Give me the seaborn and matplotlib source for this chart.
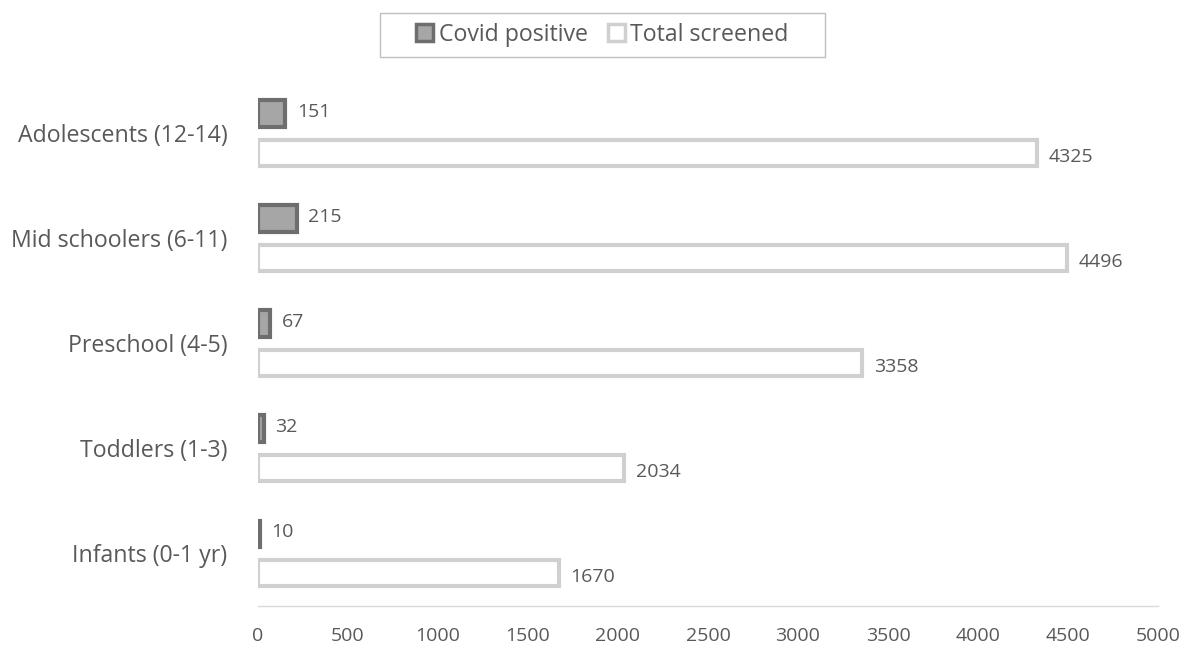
import pandas as pd
import matplotlib.pyplot as plt
import seaborn as sns
from matplotlib.patches import Patch, Rectangle

# chart data
groups = ['Adolescents (12-14)', 'Mid schoolers (6-11)', 'Preschool (4-5)',
          'Toddlers (1-3)', 'Infants (0-1 yr)']
covid_positive = [151, 215, 67, 32, 10]
total_screened = [4325, 4496, 3358, 2034, 1670]
series = ['Covid positive', 'Total screened']
x_ticks = list(range(0, 5001, 500))

df = pd.DataFrame({
    'group': groups * 2,
    'value': covid_positive + total_screened,
    'series': [series[0]] * len(groups) + [series[1]] * len(groups),
})

sns.set_style('white')
plt.rcParams['font.family'] = ['Open Sans', 'DejaVu Sans']
text_col = '#595959'

fig = plt.figure(figsize=(11.91, 6.54), dpi=100)
ax = fig.add_axes([0.2166, 0.0734, 0.7557, 0.8035])

sns.barplot(data=df, y='group', x='value', hue='series', order=groups,
            hue_order=series, orient='h', width=0.75, gap=0.33,
            palette=['#a6a6a6', '#ffffff'], ax=ax, legend=False)

# style the bars per series
n = len(groups)
for i, p in enumerate(ax.patches[:2 * n]):
    if i < n:
        p.set_edgecolor('#6e6e6e')
    else:
        p.set_edgecolor('#d0d0d0')
    p.set_linewidth(3)

# value labels
values = covid_positive + total_screened
for i, p in enumerate(ax.patches[:2 * n]):
    yc = p.get_y() + p.get_height() / 2
    ax.annotate(str(values[i]), (p.get_width(), yc),
                xytext=(8.5, 1 if i < n else -3),
                textcoords='offset points', va='center', ha='left',
                fontsize=14, color=text_col)

ax.set_xlim(0, 5000)
ax.set_ylim(len(groups) - 0.5, -0.5)
ax.set_xticks(x_ticks)
ax.set_xticklabels([str(t) for t in x_ticks])
ax.set_xlabel('')
ax.set_ylabel('')
ax.tick_params(axis='x', length=0, pad=15, labelsize=14, labelcolor=text_col)
ax.tick_params(axis='y', length=0, pad=22, labelsize=16.7, labelcolor=text_col)
for side in ['top', 'right', 'left']:
    ax.spines[side].set_visible(False)
ax.spines['bottom'].set_color('#d9d9d9')
ax.spines['bottom'].set_linewidth(1)

# legend (Excel-style wide frame drawn separately)
handles = [Patch(facecolor='#a6a6a6', edgecolor='#6e6e6e', linewidth=2.5),
           Patch(facecolor='#ffffff', edgecolor='#d0d0d0', linewidth=2.5)]
leg = fig.legend(handles, series, loc='center', bbox_to_anchor=(0.506, 0.947),
                 ncol=2, frameon=False, fontsize=16.7,
                 handlelength=0.7, handleheight=0.7, handletextpad=0.25,
                 columnspacing=0.9, borderpad=0.3, borderaxespad=0,
                 labelcolor=text_col)
fig.patches.append(Rectangle((380 / 1191, 1 - 57 / 654), 445 / 1191, 44 / 654,
                             transform=fig.transFigure, fill=False,
                             edgecolor='#bfbfbf', linewidth=1))

fig.savefig('out.png', dpi=100)
